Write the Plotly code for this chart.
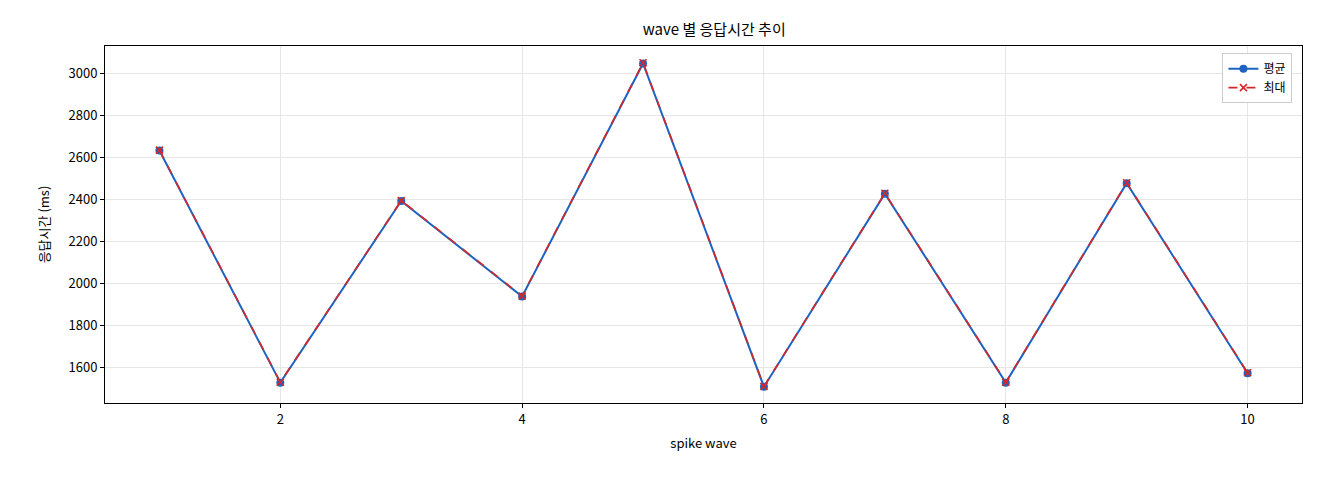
import plotly.graph_objects as go

waves = [1, 2, 3, 4, 5, 6, 7, 8, 9, 10]
avg_ms = [2635, 1530, 2395, 1940, 3050, 1510, 2430, 1530, 2480, 1575]
max_ms = [2637, 1532, 2397, 1942, 3053, 1512, 2432, 1532, 2482, 1577]

fig = go.Figure()
fig.add_trace(go.Scatter(x=waves, y=avg_ms, name="평균", mode="lines+markers",
                         line=dict(color="#1f63c0", width=2),
                         marker=dict(symbol="circle", size=8, color="#1f63c0")))
fig.add_trace(go.Scatter(x=waves, y=max_ms, name="최대", mode="lines+markers",
                         line=dict(color="#d62728", width=1.6, dash="dash"),
                         marker=dict(symbol="x-thin", size=7, color="#d62728",
                                     line=dict(width=1.6, color="#d62728"))))

axis_common = dict(showline=True, linecolor="black", mirror=True, ticks="outside",
                   ticklen=4, tickcolor="black", showgrid=True, gridcolor="#e6e6e6",
                   zeroline=False, tickfont=dict(size=13, color="black"), automargin=False)
fig.update_layout(
    width=1320, height=480, paper_bgcolor="white", plot_bgcolor="white",
    margin=dict(l=97, r=26, t=38, b=85),
    font=dict(family="Noto Sans CJK KR, DejaVu Sans", color="black"),
    title=dict(text="wave 별 응답시간 추이", x=0.535, xanchor="center", y=0.965,
               font=dict(size=15)),
    xaxis=dict(title=dict(text="spike wave", font=dict(size=13), standoff=12), range=[0.55, 10.45],
               tickvals=[2, 4, 6, 8, 10], **axis_common),
    yaxis=dict(title=dict(text="응답시간 (ms)", font=dict(size=13)), range=[1433, 3133],
               tickvals=[1600, 1800, 2000, 2200, 2400, 2600, 2800, 3000], **axis_common),
    legend=dict(x=0.992, y=0.98, xanchor="right", yanchor="top", bgcolor="white",
                bordercolor="#cccccc", borderwidth=1, font=dict(size=12)),
)
fig.write_html("out.html")
